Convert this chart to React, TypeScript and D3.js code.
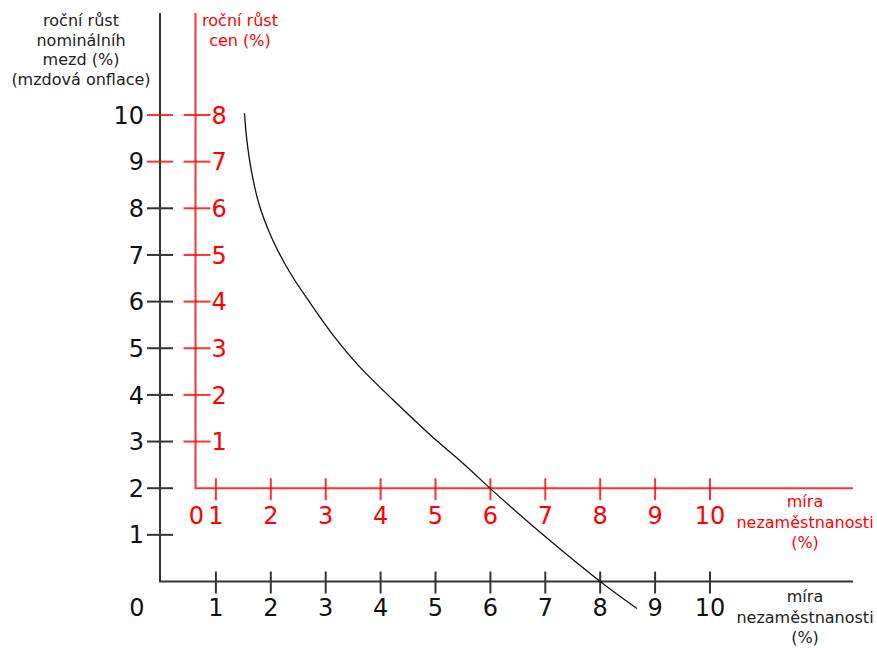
import React, { useRef, useEffect } from 'react'
import { select, scaleLinear, line, curveCatmullRom } from 'd3'

// Phillips curve: wage growth (black axes) vs unemployment
const unemployment = [1.52, 1.56, 1.65, 1.79, 2.02, 2.34, 2.74, 3.11, 3.62, 4.23, 4.87, 5.57, 6.01, 6.96, 8.0, 8.67]
const wageGrowth = [10.04, 9.5, 8.78, 8.07, 7.36, 6.64, 5.93, 5.32, 4.6, 3.89, 3.18, 2.46, 1.98, 1.0, 0, -0.58]

const xTickValues = [1, 2, 3, 4, 5, 6, 7, 8, 9, 10]
const wageTickValues = [1, 2, 3, 4, 5, 6, 7, 8, 9, 10]
const priceTickValues = [1, 2, 3, 4, 5, 6, 7, 8]
const priceOffset = 2 // price growth = wage growth - 2

const wageTitle = ['roční růst', 'nominálníh', 'mezd (%)', '(mzdová onflace)']
const priceTitle = ['roční růst', 'cen (%)']
const xTitle = ['míra', 'nezaměstnanosti', '(%)']

const App = () => {
  const svgRef = useRef<SVGSVGElement>(null)

  useEffect(() => {
    if (!svgRef.current) return
    const svg = select(svgRef.current)
    svg.selectAll('*').remove()

    const width = 877
    const height = 648
    const red = '#ff0000'
    const dark = '#333333'
    const font = '"DejaVu Sans", Verdana, sans-serif'
    const tickSize = 24

    const x = scaleLinear().domain([0, 10]).range([161, 710])
    const y = scaleLinear().domain([0, 10]).range([581.5, 115])
    const yPrice = scaleLinear().domain([0, 8]).range([y(priceOffset), y(10)])

    const axisTop = 13
    const axisRight = 853
    const blackAxisX = 160
    const redAxisX = 195.5

    svg.attr('width', width).attr('height', height)

    // black axes
    svg.append('path')
      .attr('d', `M${blackAxisX},${axisTop}V${y(0)}H${axisRight}`)
      .attr('fill', 'none')
      .attr('stroke', dark)
      .attr('stroke-width', 2)

    // red axes
    svg.append('path')
      .attr('d', `M${redAxisX},${axisTop}V${yPrice(0)}H${axisRight}`)
      .attr('fill', 'none')
      .attr('stroke', red)
      .attr('stroke-opacity', 0.8)
      .attr('stroke-width', 2)

    // black y ticks (top two drawn in red as in the original)
    svg.append('g').selectAll('line')
      .data(wageTickValues)
      .join('line')
      .attr('x1', blackAxisX - 13)
      .attr('x2', blackAxisX + 13)
      .attr('y1', d => y(d))
      .attr('y2', d => y(d))
      .attr('stroke', d => (d >= 9 ? red : dark))
      .attr('stroke-opacity', d => (d >= 9 ? 0.8 : 1))
      .attr('stroke-width', 2)

    svg.append('g').selectAll('text')
      .data(wageTickValues)
      .join('text')
      .attr('x', blackAxisX - 16)
      .attr('y', d => y(d))
      .attr('dy', '0.36em')
      .attr('text-anchor', 'end')
      .attr('font-family', font)
      .attr('font-size', tickSize)
      .attr('fill', '#111')
      .text(d => d)

    // black x ticks
    svg.append('g').selectAll('line')
      .data(xTickValues)
      .join('line')
      .attr('x1', d => x(d))
      .attr('x2', d => x(d))
      .attr('y1', y(0) - 10)
      .attr('y2', y(0) + 12)
      .attr('stroke', dark)
      .attr('stroke-width', 2)

    svg.append('g').selectAll('text')
      .data(xTickValues)
      .join('text')
      .attr('x', d => x(d))
      .attr('y', 616)
      .attr('text-anchor', 'middle')
      .attr('font-family', font)
      .attr('font-size', tickSize)
      .attr('fill', '#111')
      .text(d => d)

    svg.append('text')
      .attr('x', 137)
      .attr('y', 616)
      .attr('text-anchor', 'middle')
      .attr('font-family', font)
      .attr('font-size', tickSize)
      .attr('fill', '#111')
      .text('0')

    // red y ticks
    svg.append('g').selectAll('line')
      .data(priceTickValues)
      .join('line')
      .attr('x1', redAxisX - 12)
      .attr('x2', redAxisX + 15)
      .attr('y1', d => yPrice(d))
      .attr('y2', d => yPrice(d))
      .attr('stroke', red)
      .attr('stroke-opacity', 0.8)
      .attr('stroke-width', 2)

    svg.append('g').selectAll('text')
      .data(priceTickValues)
      .join('text')
      .attr('x', redAxisX + 16)
      .attr('y', d => yPrice(d))
      .attr('dy', '0.36em')
      .attr('text-anchor', 'start')
      .attr('font-family', font)
      .attr('font-size', tickSize)
      .attr('fill', red)
      .text(d => d)

    // red x ticks
    svg.append('g').selectAll('line')
      .data(xTickValues)
      .join('line')
      .attr('x1', d => x(d))
      .attr('x2', d => x(d))
      .attr('y1', yPrice(0) - 10)
      .attr('y2', yPrice(0) + 12)
      .attr('stroke', red)
      .attr('stroke-opacity', 0.8)
      .attr('stroke-width', 2)

    svg.append('g').selectAll('text')
      .data(xTickValues)
      .join('text')
      .attr('x', d => x(d))
      .attr('y', 524)
      .attr('text-anchor', 'middle')
      .attr('font-family', font)
      .attr('font-size', tickSize)
      .attr('fill', red)
      .text(d => d)

    svg.append('text')
      .attr('x', redAxisX + 1)
      .attr('y', 524)
      .attr('text-anchor', 'middle')
      .attr('font-family', font)
      .attr('font-size', tickSize)
      .attr('fill', red)
      .text('0')

    // axis titles
    const title = (lines: string[], cx: number, y0: number, step: number, color: string) => {
      svg.append('g').selectAll('text')
        .data(lines)
        .join('text')
        .attr('x', cx)
        .attr('y', (_, i) => y0 + i * step)
        .attr('text-anchor', 'middle')
        .attr('font-family', font)
        .attr('font-size', 16)
        .attr('fill', color)
        .text(d => d)
    }
    title(wageTitle, 81, 26, 19.7, '#222')
    title(priceTitle, 240, 26, 20, red)
    title(xTitle, 805, 507, 20.5, red)
    title(xTitle, 805, 602, 20.5, '#222')

    // the curve
    const pts = unemployment.map((u, i) => [u, wageGrowth[i]] as [number, number])
    const curve = line<[number, number]>()
      .x(d => x(d[0]))
      .y(d => y(d[1]))
      .curve(curveCatmullRom.alpha(0.5))

    svg.append('path')
      .attr('d', curve(pts))
      .attr('fill', 'none')
      .attr('stroke', '#111')
      .attr('stroke-width', 1.3)
  }, [])

  return (
    <div>
      <svg ref={svgRef} style={{ position: 'absolute', left: 0, top: 0 }} />
    </div>
  )
}

export default App
